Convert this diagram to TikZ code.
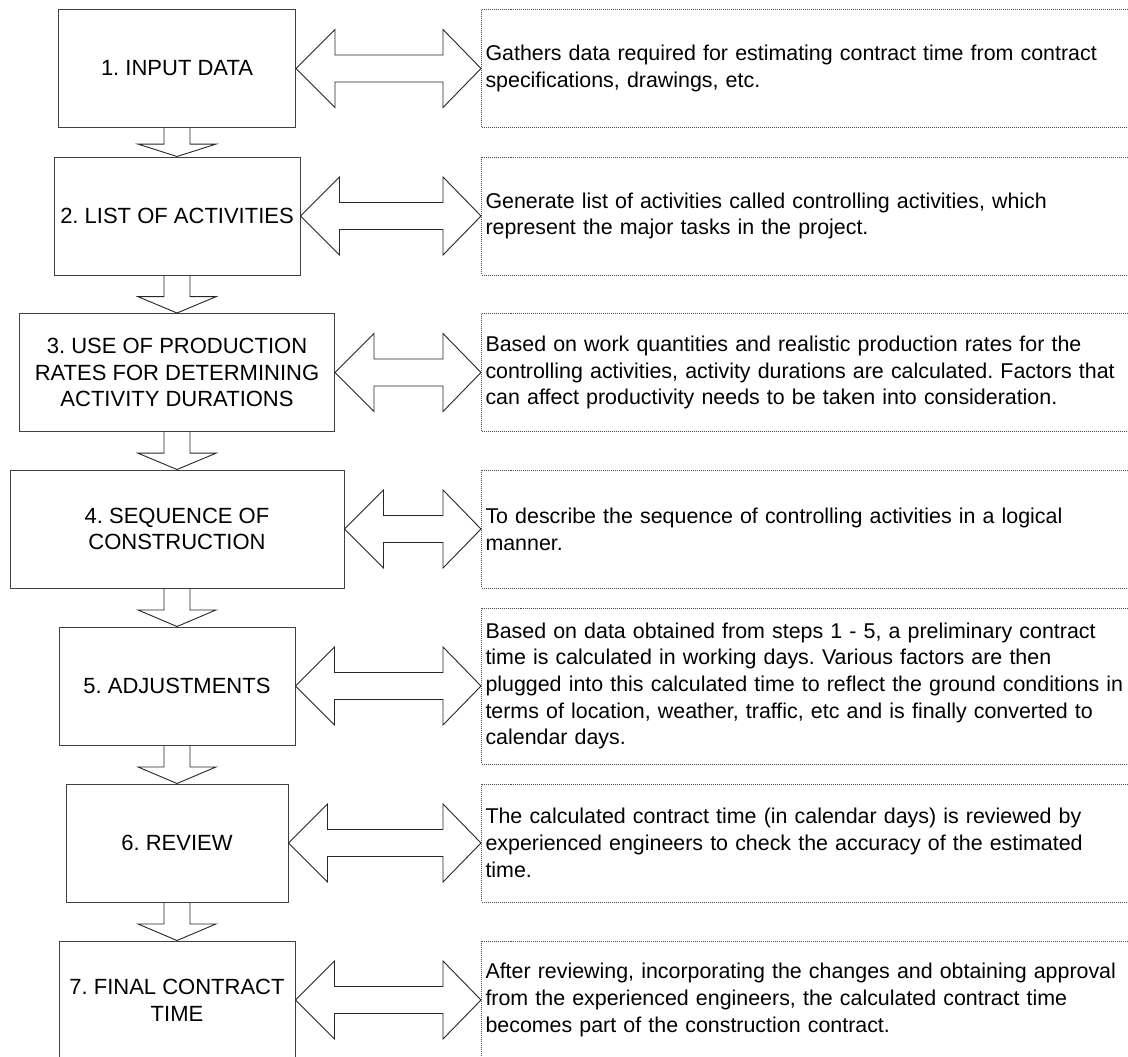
\documentclass[tikz,border=0pt]{standalone}
\usepackage{fontspec}
\setmainfont{Liberation Sans}
\usetikzlibrary{calc}
\frenchspacing

\begin{document}
\begin{tikzpicture}[x=1pt, y=-1pt, line width=1pt,
	every node/.style={font=\fontsize{22}{26.7}\selectfont},
	stepbox/.style={draw=black!75, align=center, minimum height=118, inner sep=2pt},
	descbox/.style={draw=black!70, densely dotted, anchor=west, text width=690pt, align=left, inner xsep=4pt, minimum height=118,
		font=\fontsize{21.4}{26.7}\selectfont},
	blockarrow/.style={draw=black!85, line width=0.9pt, line join=miter}]
	\useasboundingbox (0,0) rectangle (1128,1057);
	
	% steps
	\node[stepbox, minimum width=237] (s1) at (177,68.5) {1. INPUT DATA};
	\node[stepbox, minimum width=246] (s2) at (177,216) {2. LIST OF ACTIVITIES};
	\node[stepbox, minimum width=315] (s3) at (177,372.5) {3. USE OF PRODUCTION\\RATES FOR DETERMINING\\ACTIVITY DURATIONS};
	\node[stepbox, minimum width=334] (s4) at (177,529) {4. SEQUENCE OF\\CONSTRUCTION};
	\node[stepbox, minimum width=236] (s5) at (177,686) {5. ADJUSTMENTS};
	\node[stepbox, minimum width=222] (s6) at (177,843) {6. REVIEW};
	\node[stepbox, minimum width=236] (s7) at (177,1000) {7. FINAL CONTRACT\\TIME};
	
	% descriptions
	\node[descbox] (d1) at (481,68.5) {Gathers data required for estimating contract time from contract\\specifications, drawings, etc.};
	\node[descbox] (d2) at (481,216) {Generate list of activities called controlling activities, which\\represent the major tasks in the project.};
	\node[descbox] (d3) at (481,372.5) {Based on work quantities and realistic production rates for the\\controlling activities, activity durations are calculated. Factors that\\can affect productivity needs to be taken into consideration.};
	\node[descbox] (d4) at (481,529) {To describe the sequence of controlling activities in a logical\\manner.};
	\node[descbox, minimum height=156] (d5) at (481,686) {Based on data obtained from steps 1 - 5, a preliminary contract\\time is calculated in working days. Various factors are then\\plugged into this calculated time to reflect the ground conditions in\\terms of location, weather, traffic, etc and is finally converted to\\calendar days.};
	\node[descbox] (d6) at (481,843) {The calculated contract time (in calendar days) is reviewed by\\experienced engineers to check the accuracy of the estimated\\time.};
	\node[descbox] (d7) at (481,1000) {After reviewing, incorporating the changes and obtaining approval\\from the experienced engineers, the calculated contract time\\becomes part of the construction contract.};
	
	% step <-> description
	\foreach \i in {1,...,7}{
		\draw[blockarrow] (s\i.east) -- ++(39,-39) -- ++(0,25.5) -- ($(d\i.west)+(-38,-13.5)$) -- ++(0,-25.5) -- (d\i.west)
			-- ++(-38,39) -- ++(0,-25.5) -- ($(s\i.east)+(39,13.5)$) -- ++(0,25.5) -- cycle;
	}
	
	% step -> next step
	\foreach \i [evaluate=\i as \j using int(\i+1)] in {1,...,6}{
		\coordinate (m\i) at ($(s\i.south)!0.565!(s\j.north)$);
		\draw[blockarrow] ($(s\i.south)+(-13,0)$) -- ($(m\i)+(-13,0)$) -- ($(m\i)+(-39,0)$) -- (s\j.north)
			-- ($(m\i)+(39,0)$) -- ($(m\i)+(13,0)$) -- ($(s\i.south)+(13,0)$);
	}
\end{tikzpicture}
\end{document}
